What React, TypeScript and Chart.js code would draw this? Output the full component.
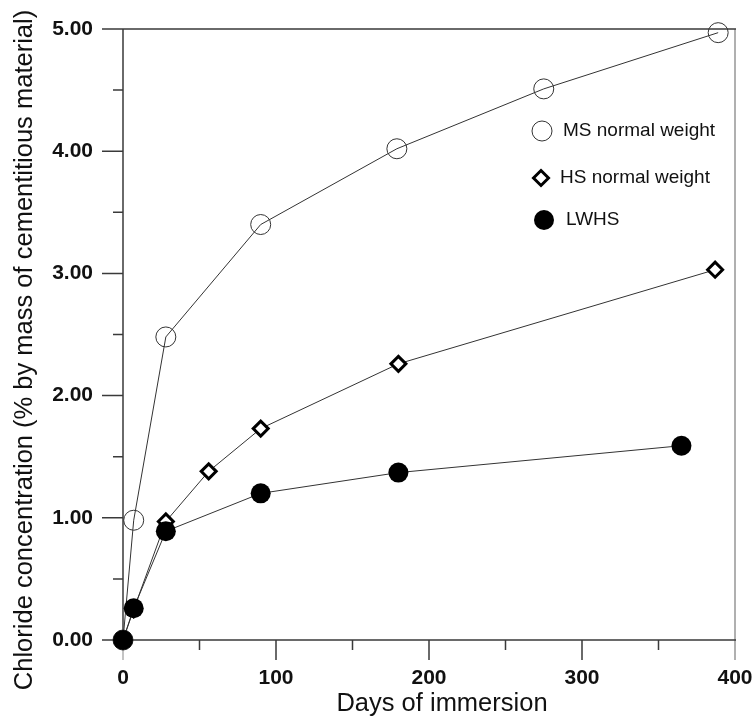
import React, { useEffect, useRef } from "react";
import { Chart, registerables } from "chart.js";

Chart.register(...registerables);

const msDays = [0, 7, 28, 90, 179, 275, 389];
const msValues = [0, 0.98, 2.48, 3.4, 4.02, 4.51, 4.97];
const hsDays = [0, 7, 28, 56, 90, 180, 387];
const hsValues = [0, 0.25, 0.97, 1.38, 1.73, 2.26, 3.03];
const lwDays = [0, 7, 28, 90, 180, 365];
const lwValues = [0, 0.26, 0.89, 1.2, 1.37, 1.59];

const seriesNames = ["MS normal weight", "HS normal weight", "LWHS"];
const xTitle = "Days of immersion";
const yTitle = "Chloride concentration (% by mass of cementitious material)";
const xMajorTicks = [0, 100, 200, 300, 400];
const xMinorTicks = [50, 150, 250, 350];
const yMajorTicks = [0, 1, 2, 3, 4, 5];
const yMinorTicks = [0.5, 1.5, 2.5, 3.5, 4.5];

const toPoints = (xs: number[], ys: number[]) => xs.map((x, i) => ({ x, y: ys[i] }));

const FONT = "'Liberation Sans', Arial, Helvetica, sans-serif";

const framePlugin = {
  id: "frame",
  beforeDatasetsDraw(chart: any) {
    const { ctx, chartArea: a, scales } = chart;
    const xs = scales.x;
    const ys = scales.y;
    ctx.save();
    ctx.lineCap = "butt";
    // right border (gray)
    ctx.strokeStyle = "#b0b0b0";
    ctx.lineWidth = 2;
    ctx.beginPath();
    ctx.moveTo(a.right, a.top);
    ctx.lineTo(a.right, a.bottom + 20);
    ctx.stroke();
    // x=0 tick gray
    ctx.lineWidth = 1.5;
    ctx.beginPath();
    ctx.moveTo(a.left, a.bottom);
    ctx.lineTo(a.left, a.bottom + 20);
    ctx.stroke();
    // top border and axes
    ctx.strokeStyle = "#3a3a3a";
    ctx.lineWidth = 1.5;
    ctx.beginPath();
    ctx.moveTo(a.left - 21, a.top);
    ctx.lineTo(a.right + 1, a.top);
    ctx.moveTo(a.left - 21, a.bottom);
    ctx.lineTo(a.right + 1, a.bottom);
    ctx.moveTo(a.left, a.top);
    ctx.lineTo(a.left, a.bottom);
    for (const v of yMajorTicks) {
      const p = ys.getPixelForValue(v);
      ctx.moveTo(a.left - 21, p);
      ctx.lineTo(a.left, p);
    }
    for (const v of yMinorTicks) {
      const p = ys.getPixelForValue(v);
      ctx.moveTo(a.left - 10, p);
      ctx.lineTo(a.left, p);
    }
    for (const v of xMajorTicks) {
      if (v === 0 || v === 400) continue;
      const p = xs.getPixelForValue(v);
      ctx.moveTo(p, a.bottom);
      ctx.lineTo(p, a.bottom + 20);
    }
    for (const v of xMinorTicks) {
      const p = xs.getPixelForValue(v);
      ctx.moveTo(p, a.bottom);
      ctx.lineTo(p, a.bottom + 10);
    }
    ctx.stroke();
    ctx.restore();
  },
  afterDatasetsDraw(chart: any) {
    const { ctx, chartArea: a } = chart;
    ctx.save();
    // legend
    const lx = a.left;
    const ly = a.top;
    ctx.fillStyle = "#111";
    ctx.font = `19px ${FONT}`;
    ctx.textBaseline = "middle";
    ctx.textAlign = "left";
    // MS open circle
    ctx.strokeStyle = "#333";
    ctx.lineWidth = 1;
    ctx.beginPath();
    ctx.arc(lx + 419, ly + 102, 10, 0, Math.PI * 2);
    ctx.fillStyle = "#fff";
    ctx.fill();
    ctx.stroke();
    ctx.fillStyle = "#111";
    ctx.fillText(seriesNames[0], lx + 440, ly + 102);
    // HS diamond
    const dx = lx + 418;
    const dy = ly + 149;
    const r = 7.5;
    ctx.beginPath();
    ctx.moveTo(dx, dy - r);
    ctx.lineTo(dx + r, dy);
    ctx.lineTo(dx, dy + r);
    ctx.lineTo(dx - r, dy);
    ctx.closePath();
    ctx.fillStyle = "#fff";
    ctx.fill();
    ctx.lineWidth = 3;
    ctx.strokeStyle = "#000";
    ctx.stroke();
    ctx.fillStyle = "#111";
    ctx.fillText(seriesNames[1], lx + 437, ly + 149);
    // LWHS filled
    ctx.beginPath();
    ctx.arc(lx + 421, ly + 191, 10, 0, Math.PI * 2);
    ctx.fillStyle = "#000";
    ctx.fill();
    ctx.fillStyle = "#111";
    ctx.fillText(seriesNames[2], lx + 443, ly + 191);
    // axis titles
    ctx.font = `25.5px ${FONT}`;
    ctx.textAlign = "center";
    ctx.fillText(xTitle, 442, 704);
    ctx.translate(25, 350);
    ctx.rotate(-Math.PI / 2);
    ctx.fillText(yTitle, 0, 0);
    ctx.restore();
  },
};

const zeroPad = (s: any) => {
  s.paddingTop = 0;
  s.paddingBottom = 0;
  s.paddingLeft = 0;
  s.paddingRight = 0;
};

export default function App() {
  const ref = useRef<HTMLCanvasElement | null>(null);
  useEffect(() => {
    if (!ref.current) return;
    const chart = new Chart(ref.current, {
      type: "line",
      data: {
        datasets: [
          {
            label: seriesNames[2],
            data: toPoints(lwDays, lwValues),
            borderColor: "#333",
            borderWidth: 1,
            pointStyle: "circle",
            pointRadius: 10,
            pointBackgroundColor: "#000",
            pointBorderColor: "#000",
            pointBorderWidth: 0,
            clip: false,
            order: 0,
          },
          {
            label: seriesNames[1],
            data: toPoints(hsDays, hsValues),
            borderColor: "#333",
            borderWidth: 1,
            pointStyle: "rectRot",
            pointRadius: 7.5,
            pointBackgroundColor: "#fff",
            pointBorderColor: "#000",
            pointBorderWidth: 3,
            clip: false,
            order: 1,
          },
          {
            label: seriesNames[0],
            data: toPoints(msDays, msValues),
            borderColor: "#333",
            borderWidth: 1,
            pointStyle: "circle",
            pointRadius: 10,
            pointBackgroundColor: "rgba(255,255,255,0)",
            pointBorderColor: "#333",
            pointBorderWidth: 1,
            clip: false,
            order: 2,
          },
        ],
      },
      options: {
        animation: false,
        responsive: true,
        maintainAspectRatio: false,
        layout: { autoPadding: false, padding: { left: 0, top: 29, right: 20, bottom: 0 } },
        plugins: { legend: { display: false }, tooltip: { enabled: false } },
        elements: { line: { tension: 0 } },
        scales: {
          x: {
            type: "linear",
            min: 0,
            max: 400,
            grid: { display: false, drawTicks: false },
            border: { display: false },
            ticks: {
              stepSize: 100,
              padding: 26,
              color: "#111",
              font: { family: FONT, size: 21, weight: "bold" },
            },
            afterFit(s: any) {
              s.height = 79;
              zeroPad(s);
            },
          },
          y: {
            type: "linear",
            min: 0,
            max: 5,
            grid: { display: false, drawTicks: false },
            border: { display: false },
            ticks: {
              stepSize: 1,
              padding: 30,
              color: "#111",
              font: { family: FONT, size: 21, weight: "bold" },
              callback: (v: any) => Number(v).toFixed(2),
            },
            afterFit(s: any) {
              s.width = 123;
              zeroPad(s);
            },
          },
        },
      },
      plugins: [framePlugin],
    });
    return () => chart.destroy();
  }, []);
  return (
    <div style={{ position: "absolute", left: 0, top: 0, width: 755, height: 719, background: "#fff" }}>
      <canvas ref={ref} />
    </div>
  );
}
